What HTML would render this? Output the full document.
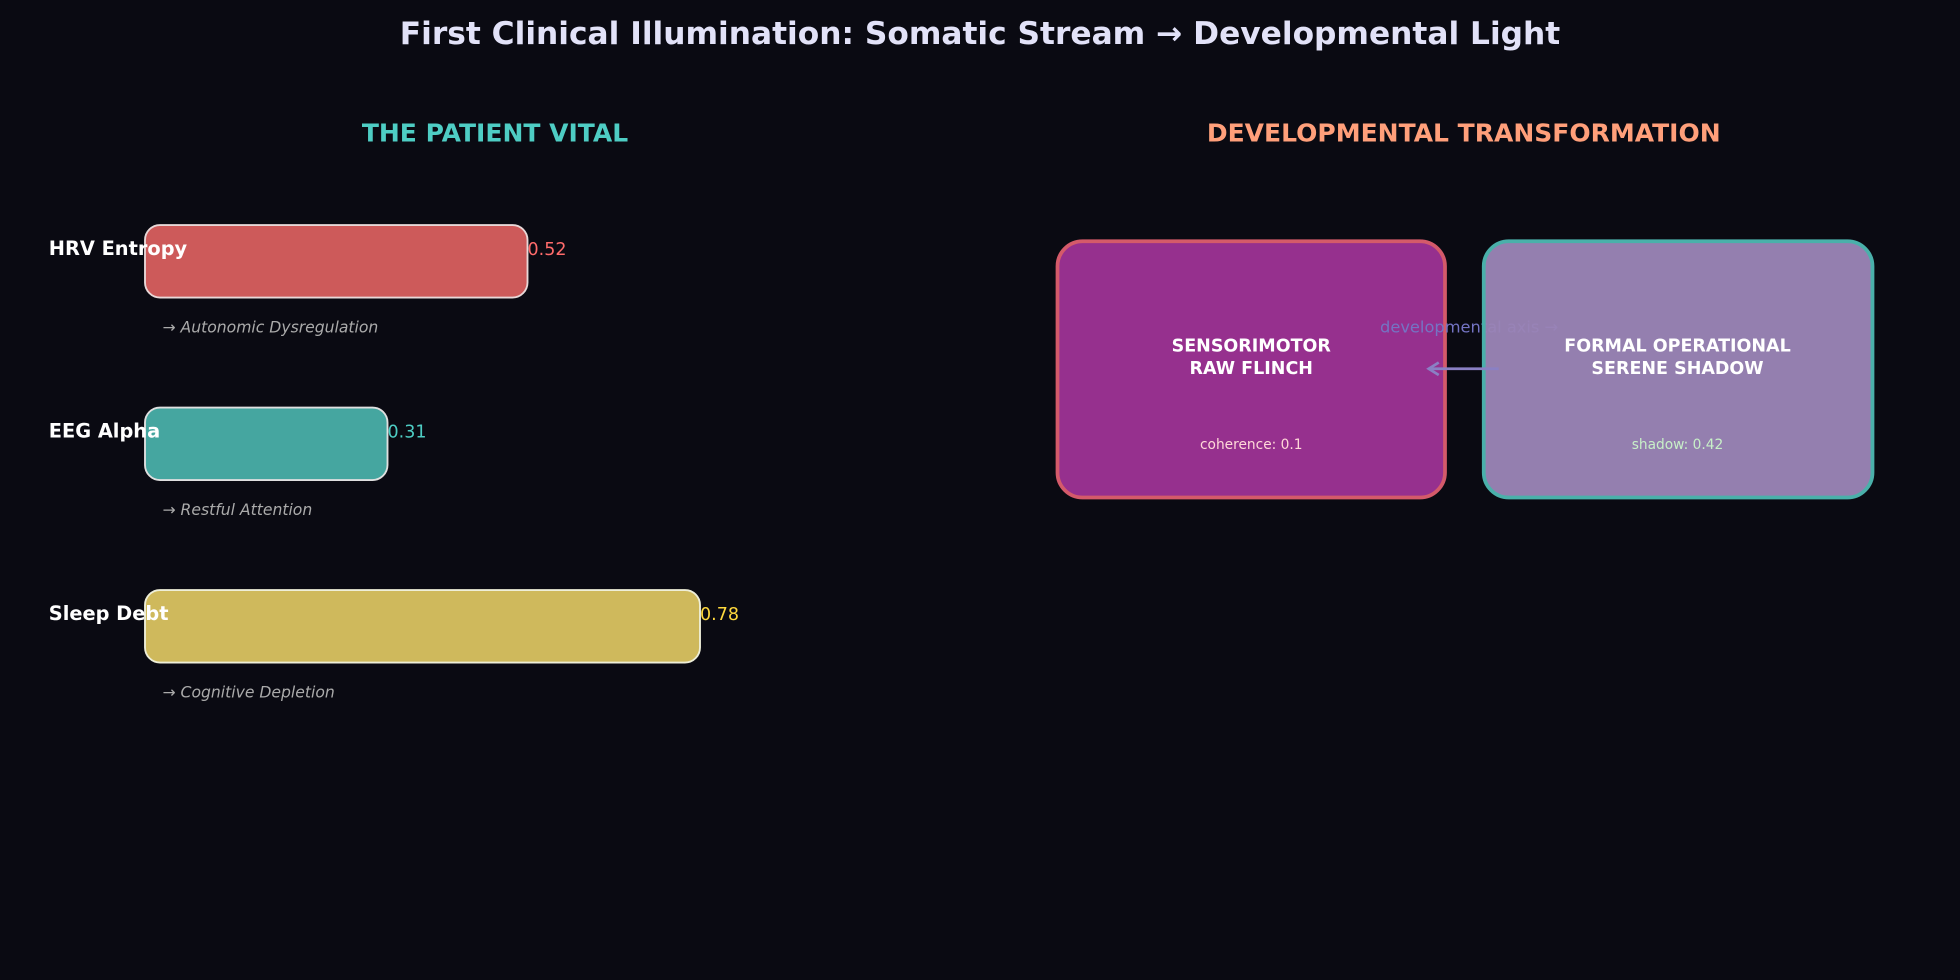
<!DOCTYPE html>
<html><head><meta charset="utf-8"><style>
html,body{margin:0;padding:0;background:#0a0a12;}
svg{display:block;}
text{font-family:"DejaVu Sans","Liberation Sans",sans-serif;}
</style></head><body>
<svg width="1960" height="980" viewBox="0 0 1568 784" xmlns="http://www.w3.org/2000/svg">
<rect width="1568" height="784" fill="#0a0a12"/>
<text x="784" y="35" text-anchor="middle" font-size="25" font-weight="bold" fill="#e2e2f8">First Clinical Illumination: Somatic Stream → Developmental Light</text>
<text x="396" y="113" text-anchor="middle" font-size="20" font-weight="bold" fill="#4ecdc4">THE PATIENT VITAL</text>
<text x="1171" y="113" text-anchor="middle" font-size="20" font-weight="bold" fill="#ff9f7a">DEVELOPMENTAL TRANSFORMATION</text>

<rect x="116" y="180" width="306" height="58" rx="12" fill="#cd5a5a" stroke="#e8d8d8" stroke-width="1.5"/>
<text x="39" y="204" font-size="15.5" font-weight="bold" fill="#fff">HRV Entropy</text>
<text x="422" y="204" font-size="14" fill="#ff6b6b">0.52</text>
<text x="130" y="266" font-size="12.5" font-style="italic" fill="#aaaaaa">→ Autonomic Dysregulation</text>

<rect x="116" y="326" width="194" height="58" rx="12" fill="#45a6a0" stroke="#e0e0e0" stroke-width="1.5"/>
<text x="39" y="350" font-size="15.5" font-weight="bold" fill="#fff">EEG Alpha</text>
<text x="310" y="350" font-size="14" fill="#4ecdc4">0.31</text>
<text x="130" y="412" font-size="12.5" font-style="italic" fill="#aaaaaa">→ Restful Attention</text>

<rect x="116" y="472" width="444" height="58" rx="12" fill="#cfb95c" stroke="#eeeed8" stroke-width="1.5"/>
<text x="39" y="496" font-size="15.5" font-weight="bold" fill="#fff">Sleep Debt</text>
<text x="560" y="496" font-size="14" fill="#ffd93d">0.78</text>
<text x="130" y="558" font-size="12.5" font-style="italic" fill="#aaaaaa">→ Cognitive Depletion</text>

<rect x="846" y="193" width="310" height="205" rx="20" fill="#96308e" stroke="#d45a6a" stroke-width="3"/>
<text x="1001" y="281" text-anchor="middle" font-size="14" font-weight="bold" fill="#fff">SENSORIMOTOR</text>
<text x="1001" y="299" text-anchor="middle" font-size="14" font-weight="bold" fill="#fff">RAW FLINCH</text>
<text x="1001" y="359" text-anchor="middle" font-size="11" fill="#ffd8d8">coherence: 0.1</text>

<text x="1104" y="266" font-size="13" fill="#7474c4">developmental axis →</text>
<rect x="1187" y="193" width="311" height="205" rx="20" fill="#9a84b6" fill-opacity="0.96" stroke="#4ab0aa" stroke-width="3"/>
<text x="1342" y="281" text-anchor="middle" font-size="14" font-weight="bold" fill="#fff">FORMAL OPERATIONAL</text>
<text x="1342" y="299" text-anchor="middle" font-size="14" font-weight="bold" fill="#fff">SERENE SHADOW</text>
<text x="1342" y="359" text-anchor="middle" font-size="11" fill="#c8f0c8">shadow: 0.42</text>

<line x1="1199" y1="295" x2="1144" y2="295" stroke="#8a80c4" stroke-width="2.2"/>
<path d="M1151 290 L1143 295 L1151 300" fill="none" stroke="#8a80c4" stroke-width="2.2"/>
</svg>
</body></html>
